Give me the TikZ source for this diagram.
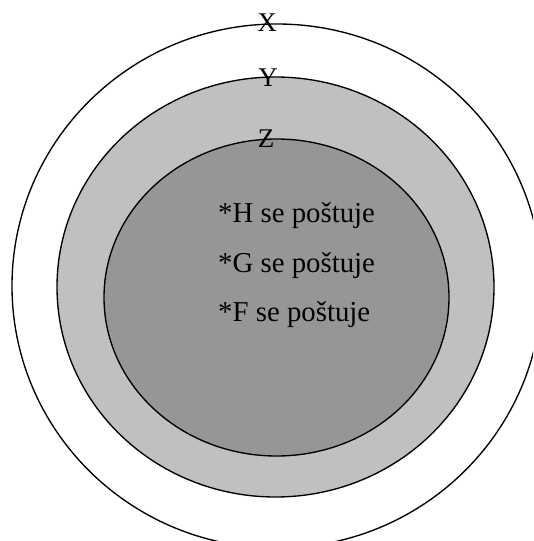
\documentclass[tikz,border=0pt]{standalone}
\usepackage{fontspec}
\setmainfont{Liberation Serif}
\begin{document}
\begin{tikzpicture}[x=1pt,y=-1pt,
  ring/.style={draw=black,line width=1.35pt},
  lbl/.style={inner sep=0pt,font=\fontsize{27}{32}\selectfont},
  txt/.style={inner sep=0pt,anchor=base west,font=\fontsize{28.8}{34}\selectfont}]
\useasboundingbox (0,0) rectangle (533,541);
\clip (0,0) rectangle (533,541);
\draw[ring,fill=white] (277,286) ellipse [x radius=265pt,y radius=262pt];
\draw[ring,fill={rgb,255:red,192;green,192;blue,192}] (275.5,287) ellipse [x radius=218.5pt,y radius=210pt];
\draw[ring,fill={rgb,255:red,150;green,150;blue,150}] (276.5,297.5) ellipse [x radius=172.5pt,y radius=158.5pt];
\node[lbl] (X) at (267,23) {X};
\node[lbl] (Y) at (268,78) {Y};
\node[lbl] (Z) at (266,139) {Z};
\node[txt] (H) at (218,222) {*H se poštuje};
\node[txt] (G) at (218,272) {*G se poštuje};
\node[txt] (F) at (218,321) {*F se poštuje};
\end{tikzpicture}
\end{document}
